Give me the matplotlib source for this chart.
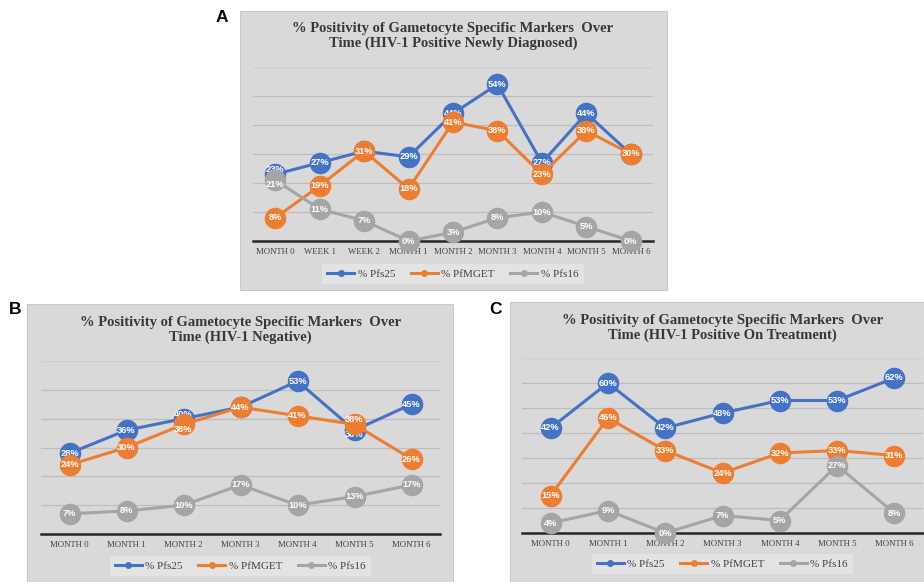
"""Gametocyte marker positivity over time — three cohort panels (A, B, C)."""

import matplotlib
matplotlib.use("Agg")
import matplotlib.pyplot as plt
from matplotlib.lines import Line2D
from matplotlib.patches import Rectangle

# ---- data ---------------------------------------------------------------
labels_a = ["MONTH 0", "WEEK 1", "WEEK 2", "MONTH 1", "MONTH 2",
            "MONTH 3", "MONTH 4", "MONTH 5", "MONTH 6"]
pfs25_a = [23, 27, 31, 29, 44, 54, 27, 44, 30]
pfmget_a = [8, 19, 31, 18, 41, 38, 23, 38, 30]
pfs16_a = [21, 11, 7, 0, 3, 8, 10, 5, 0]

labels_bc = ["MONTH 0", "MONTH 1", "MONTH 2", "MONTH 3",
             "MONTH 4", "MONTH 5", "MONTH 6"]
pfs25_b = [28, 36, 40, 44, 53, 36, 45]
pfmget_b = [24, 30, 38, 44, 41, 38, 26]
pfs16_b = [7, 8, 10, 17, 10, 13, 17]

pfs25_c = [42, 60, 42, 48, 53, 53, 62]
pfmget_c = [15, 46, 33, 24, 32, 33, 31]
pfs16_c = [4, 9, 0, 7, 5, 27, 8]

series_names = ["% Pfs25", "% PfMGET", "% Pfs16"]

# ---- style ---------------------------------------------------------------
BLUE, ORANGE, GRAY = "#4472C4", "#ED7D31", "#A5A5A5"
PANEL_BG = "#D9D9D9"
COLORS = [BLUE, ORANGE, GRAY]
SERIF = ["Liberation Serif", "DejaVu Serif"]

W, H = 924, 582
fig = plt.figure(figsize=(W / 100, H / 100), dpi=100)
fig.patch.set_facecolor("white")


def px_box(x0, y0, x1, y1):
    """Pixel box (top-left origin) -> figure fraction [l, b, w, h]."""
    return [x0 / W, 1 - y1 / H, (x1 - x0) / W, (y1 - y0) / H]


def label_offsets(data):
    """Nudge labels of nearly-coincident points apart (like Excel does)."""
    offs = [[0.0] * len(s) for s in data]
    for i in range(len(data[0])):
        for a in range(len(data)):
            for b in range(a + 1, len(data)):
                d = data[a][i] - data[b][i]
                if 0 < abs(d) <= 2:
                    sgn = 1 if d > 0 else -1
                    offs[a][i] += 1.6 * sgn
                    offs[b][i] -= 1.6 * sgn
    return offs


def panel(letter, letter_xy, box, plot_box, ymax, title, title_y,
          xlabels, data, legend_y):
    l, b, w, h = px_box(*box)
    fig.patches.append(Rectangle((l, b), w, h, transform=fig.transFigure,
                                 facecolor=PANEL_BG, edgecolor="#C9C9C9",
                                 linewidth=0.8, zorder=-5))
    fig.text(letter_xy[0] / W, 1 - letter_xy[1] / H, letter,
             fontsize=12.5, fontweight="bold", family="Liberation Sans",
             ha="center", va="center")

    cx = (plot_box[0] + plot_box[2]) / 2
    fig.text(cx / W, 1 - title_y / H, title, fontsize=10.5,
             fontweight="bold", family=SERIF, color="#383838",
             ha="center", va="center", linespacing=1.15)

    ax = fig.add_axes(px_box(*plot_box))
    ax.set_zorder(2)
    ax.set_facecolor("none")
    n = len(xlabels)
    ax.set_xlim(-0.5, n - 0.5)
    ax.set_ylim(0, ymax)
    for g in range(10, ymax + 1, 10):
        ax.axhline(g, color="#BDBDBD" if g < ymax else "#CFCFCF",
                   linewidth=0.9, zorder=1)
    for side in ["top", "right", "left"]:
        ax.spines[side].set_visible(False)
    ax.spines["bottom"].set_color("#262626")
    ax.spines["bottom"].set_linewidth(1.8)
    ax.set_yticks([])
    ax.set_xticks(range(n))
    ax.set_xticklabels(xlabels, fontsize=6.3, family=SERIF, color="#404040")
    ax.tick_params(axis="x", length=0, pad=5)

    x = list(range(n))
    offs = label_offsets(data)
    for k, (vals, color) in enumerate(zip(data, COLORS)):
        z = 3 + k * 2
        ax.plot(x, vals, color=color, linewidth=2.2, marker="o",
                markersize=15.5, markeredgewidth=0, clip_on=False, zorder=z)
        for xi, v, o in zip(x, vals, offs[k]):
            ax.text(xi, v + o, f"{v}%", color="white", fontsize=6.7,
                    fontweight="bold", family="Liberation Sans",
                    ha="center", va="center", zorder=z + 1)

    handles = [Line2D([], [], color=c, linewidth=2.2, marker="o",
                      markersize=4) for c in COLORS]
    leg = fig.legend(handles, series_names, loc="center",
                     bbox_to_anchor=(cx / W, 1 - legend_y / H),
                     ncol=3, frameon=True, fancybox=False,
                     prop={"family": SERIF, "size": 8},
                     handlelength=2.4, handletextpad=0.35, columnspacing=1.4,
                     borderpad=0.45)
    leg.set_zorder(3)
    leg.get_frame().set_facecolor("#E6E6E6")
    leg.get_frame().set_edgecolor("none")
    for t in leg.get_texts():
        t.set_color("#404040")
    return ax


panel("A", (222, 17), (240, 11, 667, 290), (253, 67, 653, 241), 60,
      "% Positivity of Gametocyte Specific Markers  Over\n"
      "Time (HIV-1 Positive Newly Diagnosed)", 36,
      labels_a, [pfs25_a, pfmget_a, pfs16_a], 274)

panel("B", (15, 310), (27, 304, 453, 590), (41, 361, 440, 534), 60,
      "% Positivity of Gametocyte Specific Markers  Over\n"
      "Time (HIV-1 Negative)", 330,
      labels_bc, [pfs25_b, pfmget_b, pfs16_b], 566)

panel("C", (496, 310), (510, 302, 930, 590), (522, 358, 923, 533), 70,
      "% Positivity of Gametocyte Specific Markers  Over\n"
      "Time (HIV-1 Positive On Treatment)", 328,
      labels_bc, [pfs25_c, pfmget_c, pfs16_c], 564)

fig.savefig("out.png", dpi=100, facecolor="white")
